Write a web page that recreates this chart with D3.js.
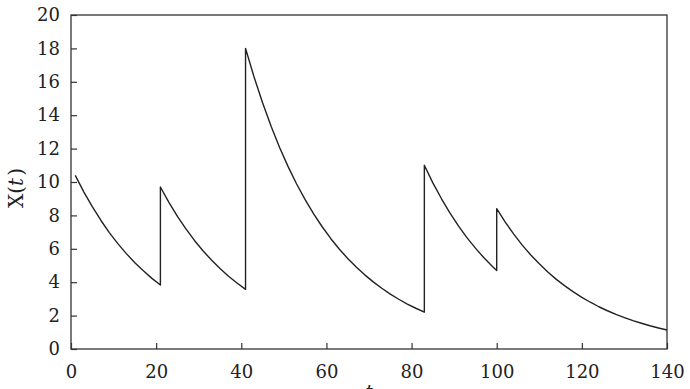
<!DOCTYPE html>
<html>
<head>
<meta charset="utf-8">
<script src="https://cdnjs.cloudflare.com/ajax/libs/d3/7.8.5/d3.min.js"></script>
<style>
  html, body { margin: 0; padding: 0; background: #fff; }
  svg { display: block; }
</style>
</head>
<body>
<svg id="chart" width="690" height="389"></svg>
<script>
// ---- data ----
const xTicks = [0, 20, 40, 60, 80, 100, 120, 140];
const yTicks = [0, 2, 4, 6, 8, 10, 12, 14, 16, 18, 20];

const tValues = [
  1, 3, 5, 7, 9, 11, 13, 15, 17, 19, 21,
  21, 23, 25, 27, 29, 31, 33, 35, 37, 39, 41,
  41, 43, 45, 47, 49, 51, 53, 55, 57, 59, 61, 63, 65, 67, 69, 71, 73, 75, 77, 79, 81, 83,
  83, 85, 87, 89, 91, 93, 95, 97, 99, 100,
  100, 102, 104, 106, 108, 110, 112, 114, 116, 118, 120, 122, 124, 126, 128, 130, 132, 134, 136, 138, 140
];
const xValues = [
  10.4, 9.41, 8.52, 7.71, 6.97, 6.31, 5.71, 5.17, 4.68, 4.23, 3.83,
  9.7, 8.78, 7.94, 7.19, 6.50, 5.88, 5.33, 4.82, 4.36, 3.95, 3.57,
  18.0, 16.29, 14.74, 13.34, 12.07, 10.92, 9.88, 8.94, 8.09, 7.32, 6.62, 5.99, 5.42, 4.91, 4.44, 4.02, 3.64, 3.29, 2.98, 2.69, 2.44, 2.21,
  11.0, 9.95, 9.01, 8.15, 7.37, 6.67, 6.04, 5.46, 4.94, 4.70,
  8.4, 7.60, 6.88, 6.22, 5.63, 5.10, 4.61, 4.17, 3.78, 3.42, 3.09, 2.80, 2.53, 2.29, 2.07, 1.88, 1.70, 1.54, 1.39, 1.26, 1.14
];

// ---- layout ----
const FONT = "'DejaVu Serif', 'Liberation Serif', serif";
const FS = "18px";
const svg = d3.select("#chart");
const margin = { left: 71, right: 23, top: 15, bottom: 40 };
const W = 690, H = 389;
const x = d3.scaleLinear().domain([0, 140]).range([margin.left, W - margin.right]);
const y = d3.scaleLinear().domain([0, 20]).range([H - margin.bottom, margin.top]);

const axisColor = "#333";

// frame
svg.append("rect")
  .attr("x", x(0)).attr("y", y(20))
  .attr("width", x(140) - x(0)).attr("height", y(0) - y(20))
  .attr("fill", "none").attr("stroke", axisColor).attr("stroke-width", 1.3);

// bottom axis, ticks pointing inward
const xAxis = svg.append("g")
  .attr("transform", `translate(0,${y(0)})`)
  .call(d3.axisBottom(x).tickValues(xTicks).tickSizeInner(-6).tickSizeOuter(0).tickPadding(16));
xAxis.attr("font-family", null).attr("font-size", null);
xAxis.select(".domain").remove();
xAxis.selectAll(".tick line").attr("stroke", axisColor).attr("stroke-width", 1.2);
xAxis.selectAll(".tick text").style("font-family", FONT).style("font-size", FS).attr("fill", "#222");

// left axis, ticks pointing inward
const yAxis = svg.append("g")
  .attr("transform", `translate(${x(0)},0)`)
  .call(d3.axisLeft(y).tickValues(yTicks).tickSizeInner(-6).tickSizeOuter(0).tickPadding(11));
yAxis.attr("font-family", null).attr("font-size", null);
yAxis.select(".domain").remove();
yAxis.selectAll(".tick line").attr("stroke", axisColor).attr("stroke-width", 1.2);
yAxis.selectAll(".tick text").style("font-family", FONT).style("font-size", FS).attr("fill", "#222");

// the line
const pts = tValues.map((t, i) => [t, xValues[i]]);
svg.append("path")
  .datum(pts)
  .attr("fill", "none")
  .attr("stroke", "#222")
  .attr("stroke-width", 1.4)
  .attr("stroke-linejoin", "round")
  .attr("d", d3.line().x(d => x(d[0])).y(d => y(d[1])).curve(d3.curveLinear));

// y axis title X(t)
const yl = svg.append("text")
  .attr("transform", `translate(23,${(y(0) + y(20)) / 2 + 6}) rotate(-90)`)
  .attr("text-anchor", "middle")
  .attr("fill", "#222")
  .style("font-family", FONT)
  .style("font-size", "20px");
yl.append("tspan").text("X(");
yl.append("tspan").attr("font-style", "italic").text("t");
yl.append("tspan").attr("dx", 2).text(")");

// x axis title t (mostly clipped at the bottom edge, as in the reference)
svg.append("text")
  .attr("x", (x(0) + x(140)) / 2)
  .attr("y", H + 9)
  .attr("text-anchor", "middle")
  .attr("fill", "#222")
  .style("font-family", FONT)
  .style("font-size", FS)
  .style("font-style", "italic")
  .text("t");
</script>
</body>
</html>
